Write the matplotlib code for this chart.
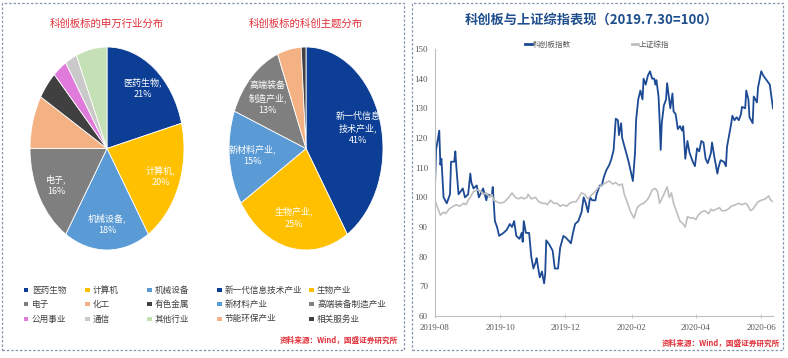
import numpy as np
import pandas as pd
import matplotlib
matplotlib.use('Agg')
import matplotlib.pyplot as plt
import matplotlib.dates as mdates
from matplotlib.patches import Rectangle

plt.rcParams['font.family'] = ['Noto Sans CJK SC', 'DejaVu Sans']

# left pie: 申万行业
sw_labels = ['医药生物', '计算机', '机械设备', '电子', '化工', '有色金属', '公用事业', '通信', '其他行业']
sw_values = [21, 20, 18, 16, 8.5, 4.5, 3, 2.5, 6.5]
sw_colors = ['#0B3E94', '#FFC000', '#5B9BD5', '#7F7F7F', '#F4B183', '#404040', '#E07BDB', '#C9C9C9', '#C5E0B4']
sw_text = ['医药生物,\n21%', '计算机,\n20%', '机械设备,\n18%', '电子,\n16%', '', '', '', '', '']

# middle pie: 科创主题
th_labels = ['新一代信息技术产业', '生物产业', '新材料产业', '高端装备制造产业', '节能环保产业', '相关服务业']
th_values = [41, 25, 15, 13, 5, 1]
th_colors = ['#0B3E94', '#FFC000', '#5B9BD5', '#7F7F7F', '#F4B183', '#404040']
th_text = ['新一代信息\n技术产业,\n41%', '生物产业,\n25%', '新材料产业,\n15%', '高端装备\n制造产业,\n13%', '', '']

# right chart: days since 2019-08-01 and index values
start = pd.Timestamp('2019-08-01')
kc_days = [0, 1, 4, 5, 6, 8, 11, 14, 15, 18, 19, 20, 22, 26, 28, 31, 33, 34, 36, 39, 41, 45, 48, 49, 53,
           54, 56, 58, 60, 64, 67, 70, 72, 74, 76, 79, 81, 82, 83, 85, 88, 90, 92, 94, 95, 97, 98, 100, 102,
           103, 104, 107, 110, 112, 115, 117, 120, 122, 126, 127, 129, 131, 134, 137, 139, 141, 143, 145,
           147, 150, 151, 154, 156, 158, 160, 163, 165, 167, 169, 171, 172, 174, 175, 181, 185, 187, 188,
           190, 192, 194, 195, 197, 199, 201, 203, 205, 206, 207, 209, 210, 211, 212, 214, 216, 217, 219,
           220, 222, 223, 225, 227, 229, 231, 232, 233, 234, 236, 238, 241, 243, 245, 247, 249, 251, 253,
           255, 258, 259, 261, 262, 264, 265, 267, 270, 272, 273, 275, 277, 278, 280, 282, 284, 286, 287,
           290, 291, 293, 294, 297, 298, 301, 302, 305, 307, 309, 312, 313, 316]
kc_vals = [103.7, 116, 122.5, 111, 113, 100, 98, 101, 112, 112, 115.5, 110, 101, 103, 100, 101, 108, 105,
           103, 104, 100, 103, 99, 101, 100.5, 103.5, 92, 90, 87, 88, 89, 91, 90, 92, 87, 86, 88, 85, 92, 88,
           88, 80, 76, 78, 79.5, 75, 73, 75, 71, 74, 85.5, 84, 82, 76, 76, 83, 87, 86.5, 85, 84.5, 88, 91, 92,
           95, 100, 98, 95, 100, 99, 99, 101, 104, 104, 107, 109, 111, 113, 116, 126.5, 126, 121, 125, 120,
           112, 105.5, 115, 126, 133, 136, 133, 140, 138, 141, 142.5, 140, 140, 138, 139.5, 134, 126, 116,
           125, 131, 133, 138.5, 133, 130, 135, 129, 128, 123, 124, 122.5, 124, 119, 113, 119, 115, 112,
           110.5, 116.5, 115.5, 119, 118.5, 113, 111.5, 115, 118.5, 114, 112, 108, 110, 112.5, 112, 110.5,
           117, 121, 125, 127.5, 126, 127, 126, 128, 130.5, 130, 136, 133, 127, 125, 134, 132, 137, 142.5,
           141, 140, 138.5, 138, 130]
sh_days = [0, 2, 4, 5, 8, 10, 13, 17, 20, 23, 27, 29, 31, 33, 36, 40, 43, 45, 48, 51, 53, 55, 58, 61, 65,
           69, 72, 75, 78, 81, 83, 86, 87, 90, 94, 97, 100, 103, 105, 108, 111, 114, 117, 120, 123, 126, 129,
           132, 137, 140, 143, 147, 150, 153, 156, 160, 163, 166, 169, 172, 175, 177, 180, 183, 186, 189,
           192, 195, 198, 200, 203, 206, 208, 210, 214, 217, 219, 221, 223, 226, 229, 232, 234, 236, 239,
           242, 244, 246, 249, 252, 256, 258, 260, 263, 266, 268, 271, 274, 277, 281, 284, 287, 290, 292,
           295, 297, 299, 302, 305, 309, 312, 314, 316]
sh_vals = [99, 97, 95, 94, 95, 94.5, 96, 97, 97.5, 97, 98, 97.5, 99, 100, 102, 102.5, 102, 101, 101.5, 100,
           101, 99, 98.5, 98, 98.5, 100, 101.5, 100, 99.5, 100, 99.5, 100, 101, 99.5, 100, 98.5, 98, 98,
           97.5, 99, 98, 98, 97, 97.5, 97, 98, 98.5, 98.5, 101.5, 101, 99.5, 101, 102, 103.5, 104, 105,
           105.5, 104.5, 105, 104, 104.5, 101, 98, 95, 93, 96.5, 97.5, 98, 99, 100, 102.5, 103, 102, 98,
           101, 103.5, 100, 101.5, 98, 95, 92, 91, 90, 93.5, 93, 93, 92.5, 94, 95, 95.5, 94.5, 96, 95.5,
           96, 96.5, 95.5, 95.5, 96, 97, 97.5, 98, 97.5, 98, 97.5, 95.5, 96, 97, 98.5, 99, 99.5, 100.5, 99,
           98.5]
series_names = ['科创板指数', '上证综指']

W, H = 788, 358
fig = plt.figure(figsize=(W / 100, H / 100), dpi=100)


def fx(px):
    return px / W


def fy(py):
    return 1 - py / H


# dashed panel frames
for x0, x1 in [(2, 404), (412, 783)]:
    fig.patches.append(Rectangle((fx(x0), fy(350)), fx(x1 - x0), (350 - 3) / H, transform=fig.transFigure,
                                 fill=False, ls=(0, (2, 1.5)), lw=0.9, ec='#8595AD'))

red = '#E0303A'


def draw_pie(cx, values, colors, texts, title, dist):
    ax = fig.add_axes([fx(cx - 77), fy(250), fx(154), 203 / H])
    wedges, _ = ax.pie(values, colors=colors, startangle=90, counterclock=False,
                       wedgeprops=dict(edgecolor='white', linewidth=0.6))
    ax.set_aspect('auto')
    ax.set_xlim(-1, 1)
    ax.set_ylim(-1, 1)
    for w, t in zip(wedges, texts):
        if not t:
            continue
        ang = np.deg2rad((w.theta1 + w.theta2) / 2)
        ax.text(dist * np.cos(ang), dist * np.sin(ang), t, ha='center', va='center',
                color='white', fontsize=6.5, linespacing=1.4)
    fig.text(fx(cx), fy(24), title, ha='center', va='center', color=red, fontsize=7.5)


draw_pie(107, sw_values, sw_colors, sw_text, '科创板标的申万行业分布', 0.75)
draw_pie(306, th_values, th_colors, th_text, '科创板标的科创主题分布', 0.7)


def draw_legend(labels, colors, col_x, ncol):
    rows_y = [290, 304, 319]
    for i, (lab, c) in enumerate(zip(labels, colors)):
        x = col_x[i % ncol]
        y = rows_y[i // ncol]
        fig.patches.append(Rectangle((fx(x - 2), fy(y + 2)), fx(4.5), 4.5 / H, transform=fig.transFigure,
                                     fc=c, ec='none'))
        fig.text(fx(x + 6), fy(y), lab, ha='left', va='center', fontsize=6.2, color='#404040')


draw_legend(sw_labels, sw_colors, [26, 87, 149], 3)
draw_legend(th_labels, th_colors, [219, 311], 2)

src = '资料来源：Wind，国盛证券研究所'
fig.text(fx(398), fy(340), src, ha='right', va='center', color=red, fontsize=5.5, fontweight='bold')
fig.text(fx(780), fy(343), src, ha='right', va='center', color=red, fontsize=5.5, fontweight='bold')

# line chart
ax = fig.add_axes([fx(435), fy(316), fx(338), 267 / H])
kc_dates = start + pd.to_timedelta(kc_days, unit='D')
sh_dates = start + pd.to_timedelta(sh_days, unit='D')
ax.plot(kc_dates, kc_vals, color='#1C4A94', lw=1.3, label=series_names[0])
ax.plot(sh_dates, sh_vals, color='#BFBFBF', lw=1.2, label=series_names[1])
ax.set_xlim(start, start + pd.Timedelta(days=316))
ax.set_ylim(60, 150)
ax.set_yticks(np.arange(60, 151, 10))
ax.xaxis.set_major_locator(mdates.MonthLocator(bymonth=[2, 4, 6, 8, 10, 12]))
ax.xaxis.set_major_formatter(mdates.DateFormatter('%Y-%m'))
for s in ['top', 'right']:
    ax.spines[s].set_visible(False)
for s in ['left', 'bottom']:
    ax.spines[s].set_color('#BFBFBF')
    ax.spines[s].set_linewidth(0.8)
ax.tick_params(axis='both', colors='#BFBFBF', labelcolor='#595959', labelsize=6.5, length=3, width=0.6)
ax.tick_params(axis='x', direction='inout', pad=4)
ax.tick_params(axis='y', direction='out', length=0, pad=5)
for lab in ax.get_xticklabels() + ax.get_yticklabels():
    lab.set_fontfamily('Liberation Serif')
leg = ax.legend(loc='center', bbox_to_anchor=(0.48, 1.015), ncol=2, frameon=False, fontsize=5.5,
                handlelength=0.8, handletextpad=0.1, columnspacing=8, labelcolor='#595959')
for h in leg.get_lines():
    h.set_linewidth(2)

fig.text(fx(591), fy(20), '科创板与上证综指表现（2019.7.30=100）', ha='center', va='center',
         fontsize=9.5, fontweight='bold', color='#1F4E8C')

fig.savefig('out.png', dpi=100)
